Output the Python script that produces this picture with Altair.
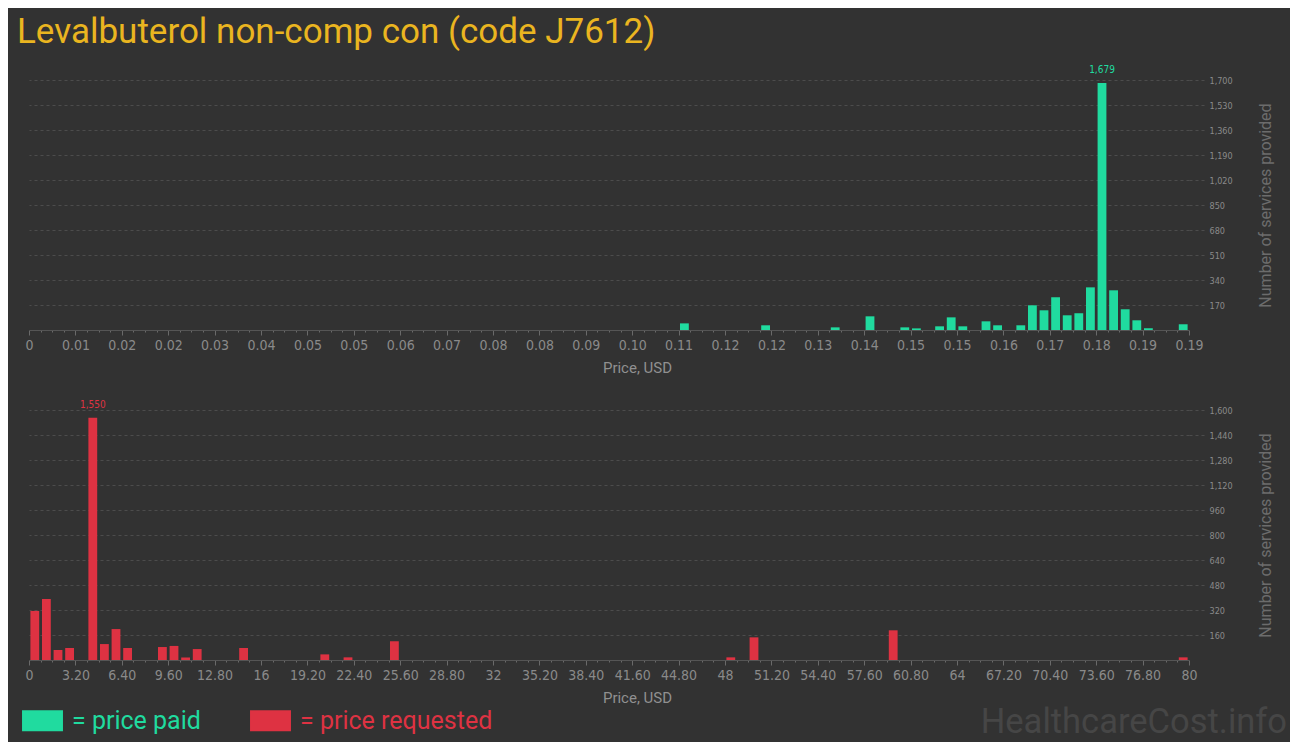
import altair as alt
import pandas as pd

BG = "#323232"
GREEN = "#20db9f"
RED = "#de3242"
FONT = "Roboto"
TICKFONT = "DejaVu Sans Condensed"

title_text = "Levalbuterol non-comp con (code J7612)"
x_title = "Price, USD"
y_title = "Number of services provided"
legend_labels = ["= price paid", "= price requested"]
watermark = "HealthcareCost.info"

# Top panel: price paid (100 bins from 0 to paid_max_price)
paid_max_price = 0.1929
paid_bins = [56, 63, 69, 72, 75, 76, 78, 79, 80, 82, 83, 85, 86, 87, 88, 89, 90, 91, 92, 93, 94, 95, 96, 99]
paid_counts = [45, 32, 18, 93, 18, 11, 25, 86, 25, 59, 32, 32, 168, 134, 222, 100, 114, 290, 1679, 270, 141, 66, 12, 39]
paid_y_ticks = [170, 340, 510, 680, 850, 1020, 1190, 1360, 1530, 1700]

# Bottom panel: price requested (100 bins from 0 to req_max_price)
req_max_price = 80
req_bins = [0, 1, 2, 3, 5, 6, 7, 8, 11, 12, 13, 14, 18, 25, 27, 31, 60, 62, 74, 99]
req_counts = [314, 390, 64, 77, 1550, 102, 198, 77, 83, 90, 16, 70, 77, 36, 17, 120, 17, 145, 190, 17]
req_y_ticks = [160, 320, 480, 640, 800, 960, 1120, 1280, 1440, 1600]

N_BINS = 100
W_PX = 1160
H_PX = 250

color_enc = alt.Color(
    "series:N",
    scale=alt.Scale(domain=legend_labels, range=[GREEN, RED]),
    legend=alt.Legend(
        title=None,
        orient="none",
        legendX=1,
        legendY=628,
        padding=0,
        direction="horizontal",
        symbolType="M-1.95,-1H1.95V1H-1.95Z",
        symbolSize=441,
        symbolStrokeWidth=0,
        symbolOpacity=1,
        labelFont=FONT,
        labelFontSize=25,
        labelOffset=17,
        labelLimit=400,
        columnPadding=49,
        labelColor=alt.ExprRef(f"datum.value == '{legend_labels[0]}' ? '{GREEN}' : '{RED}'"),
    ),
)


def panel(bins, counts, max_price, y_ticks, y_max, series, color_hex, fmt_expr, extra=None):
    w = max_price / N_BINS
    df = pd.DataFrame({"bin": bins, "count": counts})
    df["lo"] = (df["bin"] + 0.12) * w
    df["hi"] = (df["bin"] + 0.88) * w
    df["mid"] = (df["bin"] + 0.5) * w
    df["base"] = 0
    df["series"] = series
    peak = df.loc[[df["count"].idxmax()]]
    edges = [round(k * w, 6) for k in range(N_BINS + 1)]
    major = 4 * w
    test = f"abs(datum.value / {major} - round(datum.value / {major})) < 1e-6"
    xscale = alt.Scale(domain=[0, max_price], nice=False, zero=False)
    yscale = alt.Scale(domain=[0, y_max], nice=False)
    xaxis = alt.Axis(
        values=edges,
        tickCount=400,
        title=x_title,
        labelExpr=f"({test}) ? ({fmt_expr}) : ''",
        tickSize={"condition": {"test": test, "value": 5}, "value": 2},
        labelOverlap=False,
        labelFlush=False,
        labelFont=TICKFONT,
        labelFontSize=14,
        labelColor="#8a8a8a",
        labelPadding=3,
        domainColor="#555555",
        tickColor="#6a6a6a",
        titleFont=FONT,
        titleFontSize=15,
        titleFontWeight="normal",
        titleColor="#909090",
        titlePadding=8,
        titleX=608,
        grid=False,
    )
    yaxis = alt.Axis(
        orient="right",
        values=y_ticks,
        tickCount=50,
        format=",d",
        title=y_title,
        titleAngle=270,
        grid=True,
        gridColor="#4c4c4c",
        gridDash=[3, 3],
        tickSize=17,
        tickDash=[3, 3],
        tickColor="#4c4c4c",
        domain=False,
        labelOverlap=False,
        labelFlush=False,
        labelFont=TICKFONT,
        labelFontSize=9,
        labelColor="#8a8a8a",
        labelPadding=3,
        titleFont=FONT,
        titleFontSize=16,
        titleFontWeight="normal",
        titleColor="#6c6c6c",
        titlePadding=41,
    )
    bars = alt.Chart(df).mark_bar().encode(
        x=alt.X("lo:Q", scale=xscale, axis=xaxis),
        x2="hi:Q",
        y=alt.Y("count:Q", scale=yscale, axis=yaxis),
        y2="base:Q",
        color=color_enc,
    )
    label = alt.Chart(peak).mark_text(
        baseline="bottom", dy=-8, font=TICKFONT, fontSize=10, color=color_hex
    ).encode(
        x=alt.X("mid:Q", scale=xscale),
        y=alt.Y("count:Q", scale=yscale),
        text=alt.Text("count:Q", format=",d"),
    )
    layers = [bars, label]
    if extra is not None:
        layers.append(extra)
    return alt.layer(*layers).properties(width=W_PX, height=H_PX)


wm = alt.Chart(pd.DataFrame({"t": [watermark]})).mark_text(
    align="right", baseline="middle", font=FONT, fontSize=34.5, color="#464646"
).encode(x=alt.value(1258), y=alt.value(313), text="t:N")

top = panel(paid_bins, paid_counts, paid_max_price, paid_y_ticks, 1700,
            legend_labels[0], GREEN,
            "datum.value == 0 ? '0' : format(datum.value, '.2f')")
bottom = panel(req_bins, req_counts, req_max_price, req_y_ticks, 1600,
               legend_labels[1], RED,
               "datum.value % 1 == 0 ? format(datum.value, 'd') : format(datum.value, '.2f')",
               extra=wm)

chart = alt.vconcat(top, bottom, spacing=80, bounds="flush").properties(
    title=alt.TitleParams(
        text=title_text, anchor="start", frame="group", font=FONT, fontSize=35,
        fontWeight="normal", color="#eab520", offset=15, dx=-12,
    ),
    background=BG,
    padding={"left": 9, "top": 7, "right": 3, "bottom": 2},
).configure_view(stroke=None)

chart.save("out.html", embed_options={"renderer": "svg", "actions": False})
